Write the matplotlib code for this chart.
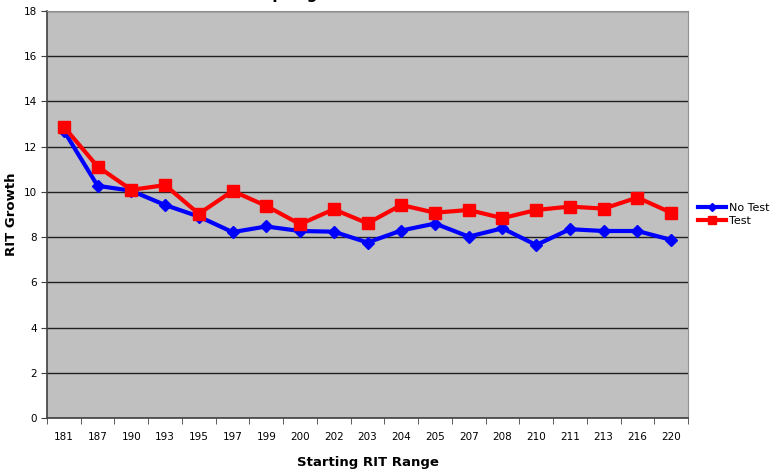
import numpy as np
import matplotlib.pyplot as plt

categories = ['181', '187', '190', '193', '195', '197', '199', '200', '202', '203',
              '204', '205', '207', '208', '210', '211', '213', '216', '220']
no_test = [12.7, 10.27, 10.05, 9.42, 8.91, 8.22, 8.47, 8.27, 8.24, 7.76,
           8.29, 8.6, 8.02, 8.39, 7.65, 8.35, 8.27, 8.27, 7.88]
test = [12.88, 11.12, 10.09, 10.3, 9.03, 10.04, 9.38, 8.57, 9.23, 8.61,
        9.42, 9.08, 9.2, 8.84, 9.2, 9.35, 9.26, 9.75, 9.08]

plt.rcParams['font.family'] = ['DejaVu Sans']
fig = plt.figure(figsize=(7.74, 4.74), dpi=100)
ax = fig.add_axes([47 / 774, 1 - 418 / 474, 641 / 774, 407 / 474])
ax.set_facecolor('#c0c0c0')

x = np.arange(len(categories))
ax.plot(x, no_test, color='#0000ff', linewidth=3, marker='D', markersize=6,
        label='No Test', zorder=3)
ax.plot(x, test, color='#ff0000', linewidth=3, marker='s', markersize=9,
        label='Test', zorder=3)

ax.set_xlim(-0.5, len(categories) - 0.5)
ax.set_ylim(0, 18)
ax.set_yticks(np.arange(0, 19, 2))
ax.set_xticks(x)
ax.set_xticklabels(categories, fontsize=7.5)
ax.set_xticks(np.arange(-0.5, len(categories)), minor=True)
ax.tick_params(axis='x', which='major', length=0, pad=10)
ax.tick_params(axis='x', which='minor', length=4, color='#404040')
ax.tick_params(axis='y', labelsize=7.5, length=4, color='#404040')
ax.grid(axis='y', color='#202020', linewidth=1)
ax.set_axisbelow(True)

for side in ['top', 'right']:
    ax.spines[side].set_color('#909090')
for side in ['left', 'bottom']:
    ax.spines[side].set_color('#404040')
    ax.spines[side].set_linewidth(1.2)

ax.set_xlabel('Starting RIT Range', fontsize=9.5, fontweight='bold', labelpad=10)
ax.set_ylabel('RIT Growth', fontsize=9.5, fontweight='bold', labelpad=4)

ax.legend(loc='center left', bbox_to_anchor=(1.0, 0.5), frameon=False,
          fontsize=8, handlelength=2.5, handletextpad=0.3, labelspacing=0.3,
          markerscale=0.7)

# title is cut off by the top of the picture, only descenders show
fig.text(0.38, 1.0 + 1 / 474, 'Fall to Spring Growth', fontsize=11,
         fontweight='bold', ha='center', va='baseline')

fig.savefig('out.png', dpi=100)
